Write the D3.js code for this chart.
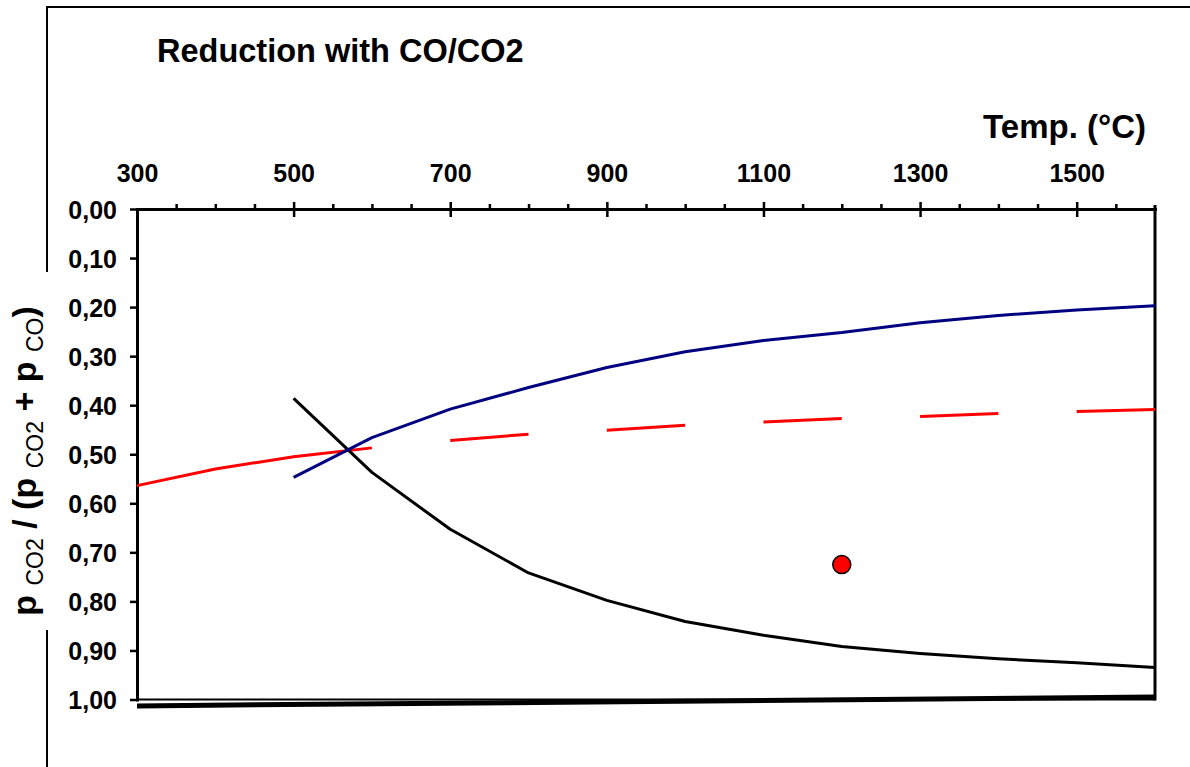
<!DOCTYPE html>
<html lang="en">
  <head>
    <meta charset="utf-8">
    <title>Reduction with CO/CO2</title>
    <script src="https://d3js.org/d3.v7.js"></script>
    <style>
      body { margin: 0; background: #fff; }
      text { font-family: "Liberation Sans", Arial, sans-serif; }
    </style>
  </head>

  <body>

  <script>

// Data

  var temps = [300, 400, 500, 600, 700, 800, 900, 1000, 1100, 1200, 1300, 1400, 1500, 1600];

  // black curve, 500..1600
  var blackTemps = temps.slice(2);
  var blackVals = [0.386, 0.537, 0.653, 0.742, 0.798, 0.841, 0.869, 0.892, 0.906, 0.917, 0.925, 0.935];

  // blue curve, 500..1600
  var blueTemps = temps.slice(2);
  var blueVals = [0.547, 0.466, 0.408, 0.364, 0.323, 0.291, 0.268, 0.252, 0.232, 0.217, 0.206, 0.197];

  // red solid, 300..600
  var redTemps = temps.slice(0, 4);
  var redVals = [0.564, 0.530, 0.505, 0.487];

  // red dashed, 600..1600
  var redDashTemps = temps.slice(3);
  var redDashVals = [0.487, 0.472, 0.459, 0.451, 0.441, 0.434, 0.427, 0.423, 0.417, 0.413, 0.409];

  // thick bottom line
  var baseTemps = [300, 1600];
  var baseVals = [1.013, 0.995];

  // single point
  var pointTemp = [1200];
  var pointVal = [0.725];

  var xMajor = [300, 500, 700, 900, 1100, 1300, 1500];
  var xMinor = [350, 400, 450, 550, 600, 650, 750, 800, 850, 950, 1000, 1050,
                1150, 1200, 1250, 1350, 1400, 1450, 1550];
  var yTicks = [0, 0.1, 0.2, 0.3, 0.4, 0.5, 0.6, 0.7, 0.8, 0.9, 1.0];

  var w = 1190;
  var h = 767;

  var svg = d3.select("body")
    .append("svg")
      .attr("width", w)
      .attr("height", h);

  var xScale = d3.scaleLinear()
      .domain([300, 1600])
      .range([137, 1155]);

  var yScale = d3.scaleLinear()
      .domain([0, 1])
      .range([209, 699.5]);

  var comma = d3.formatLocale({decimal: ",", thousands: ".", grouping: [3], currency: ["", ""]}).format(".2f");

// outer frame (broken on the left by the axis title box)

  svg.append("path")
      .attr("d", `M47,${h} L47,7 L${w + 5},7`)
      .attr("fill", "none")
      .attr("stroke", "#000")
      .attr("stroke-width", 2);

  svg.append("rect")
      .attr("x", 0)
      .attr("y", 272)
      .attr("width", 60)
      .attr("height", 358)
      .attr("fill", "#fff");

// titles

  svg.append("text")
      .attr("x", 157)
      .attr("y", 62)
      .attr("font-size", 32.5)
      .attr("font-weight", "bold")
      .text("Reduction with CO/CO2");

  svg.append("text")
      .attr("x", 1146)
      .attr("y", 138)
      .attr("text-anchor", "end")
      .attr("font-size", 33)
      .attr("font-weight", "bold")
      .text("Temp. (°C)");

  var ylab = svg.append("text")
      .attr("transform", "translate(36, 461) rotate(-90)")
      .attr("text-anchor", "middle")
      .attr("font-weight", "bold")
      .attr("font-size", 34);

  var parts = [["p ", 0], ["CO2", 1], [" / (p ", 0], ["CO2", 1], [" + p ", 0], ["CO", 1], [")", 0]];
  var prevSub = 0;
  parts.forEach(function (p) {
    var sub = p[1];
    var t = ylab.append("tspan")
        .attr("dy", (sub - prevSub) * 7)
        .text(p[0]);
    if (sub) t.attr("font-size", 23).attr("font-weight", "normal");
    prevSub = sub;
  });

// plot frame

  svg.append("line")
      .attr("x1", xScale(300))
      .attr("x2", xScale(1600))
      .attr("y1", yScale(1))
      .attr("y2", yScale(1))
      .attr("stroke", "#000")
      .attr("stroke-width", 2);

  svg.append("line")
      .attr("x1", xScale(1600))
      .attr("x2", xScale(1600))
      .attr("y1", yScale(0) - 4)
      .attr("y2", yScale(1) + 1)
      .attr("stroke", "#000")
      .attr("stroke-width", 3);

// axes

  var xAxis = d3.axisTop(xScale)
      .tickValues(xMajor)
      .tickSizeInner(7)
      .tickSizeOuter(0)
      .tickPadding(20)
      .tickFormat(d3.format("d"));

  var xMinorAxis = d3.axisTop(xScale)
      .tickValues(xMinor)
      .tickSizeInner(5)
      .tickSizeOuter(0)
      .tickFormat("");

  var yAxis = d3.axisLeft(yScale)
      .tickValues(yTicks)
      .tickSizeInner(7)
      .tickSizeOuter(0)
      .tickPadding(13)
      .tickFormat(comma);

  svg.append("g")
      .attr("class", "xMinor")
      .attr("transform", `translate(0, ${yScale(0)})`)
      .call(xMinorAxis);

  var gx = svg.append("g")
      .attr("class", "xAxis")
      .attr("transform", `translate(0, ${yScale(0)})`)
      .call(xAxis);

  gx.selectAll(".tick line").attr("y2", -7).attr("y1", 8);
  gx.selectAll(".tick").filter(d => d == 300).select("line").remove();

  var gy = svg.append("g")
      .attr("class", "yAxis")
      .attr("transform", `translate(${xScale(300)}, 0)`)
      .call(yAxis);

  svg.selectAll(".xAxis path.domain, .yAxis path.domain, .xMinor path.domain")
      .attr("stroke-width", 3)
      .attr("stroke-linecap", "square");
  svg.selectAll(".tick line").attr("stroke-width", 2.5);
  svg.selectAll(".tick text")
      .attr("font-family", "Liberation Sans, Arial, sans-serif")
      .attr("font-size", 25)
      .attr("font-weight", "bold")
      .attr("fill", "#000");
  gx.selectAll(".tick text").attr("dy", 0);
  gy.selectAll(".tick text").attr("dy", "0.36em");

// series

  var line = d3.line()
      .x(d => xScale(d[0]))
      .y(d => yScale(d[1]));

  var plot = svg.append("g").attr("id", "plot");

  plot.append("path")
      .attr("d", line(d3.zip(baseTemps, baseVals)))
      .attr("fill", "none")
      .attr("stroke", "#000")
      .attr("stroke-width", 5);

  plot.append("path")
      .attr("d", line(d3.zip(redTemps, redVals)))
      .attr("fill", "none")
      .attr("stroke", "#ff0000")
      .attr("stroke-width", 3);

  var dashPts = d3.zip(redDashTemps, redDashVals);
  plot.selectAll(".dash")
      .data(d3.range(1, dashPts.length - 1, 2))
    .enter().append("path")
      .attr("class", "dash")
      .attr("d", i => line([dashPts[i], dashPts[i + 1]]))
      .attr("fill", "none")
      .attr("stroke", "#ff0000")
      .attr("stroke-width", 3);

  plot.append("path")
      .attr("d", line(d3.zip(blackTemps, blackVals)))
      .attr("fill", "none")
      .attr("stroke", "#000")
      .attr("stroke-width", 3)
      .attr("stroke-linejoin", "round");

  plot.append("path")
      .attr("d", line(d3.zip(blueTemps, blueVals)))
      .attr("fill", "none")
      .attr("stroke", "#000080")
      .attr("stroke-width", 3)
      .attr("stroke-linejoin", "round");

  plot.selectAll("circle")
      .data(d3.zip(pointTemp, pointVal))
    .enter().append("circle")
      .attr("cx", d => xScale(d[0]))
      .attr("cy", d => yScale(d[1]))
      .attr("r", 9)
      .attr("fill", "#ff0000")
      .attr("stroke", "#000")
      .attr("stroke-width", 1.5);

    </script>

  </body>

</html>
